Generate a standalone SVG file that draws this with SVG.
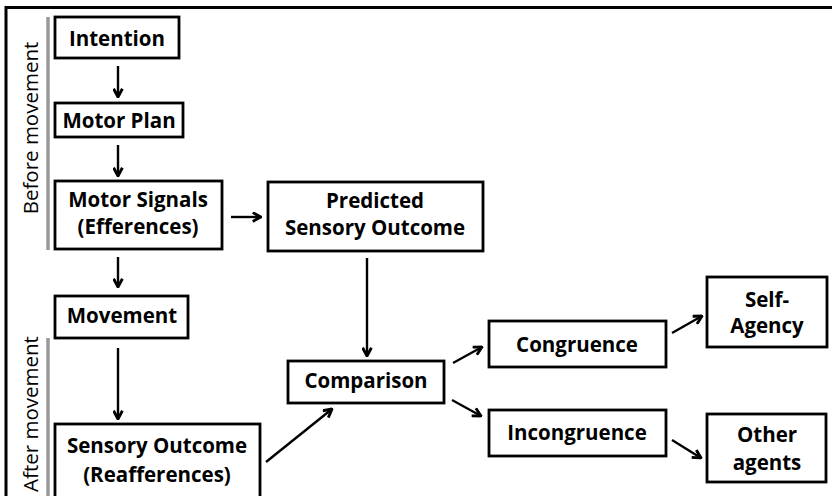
<svg xmlns="http://www.w3.org/2000/svg" width="832" height="496" viewBox="0 0 832 496">
<defs>
<marker id="ah" viewBox="0 0 10 10" refX="9" refY="5" markerWidth="11" markerHeight="11" markerUnits="userSpaceOnUse" orient="auto">
<path d="M1.5,1 L9,5 L1.5,9" fill="none" stroke="#000" stroke-width="2.6" stroke-linejoin="miter"/>
</marker>
<style>
.box{fill:#fff;stroke:#000;stroke-width:2.8}
.t{font-family:"Open Sans","Liberation Sans",sans-serif;font-weight:bold;font-size:20.5px;fill:#000;text-anchor:middle}
.s{font-family:"Open Sans","Liberation Sans",sans-serif;font-size:20.5px;fill:#000;text-anchor:middle}
.c{fill:none;stroke:#000;stroke-width:2.4;marker-end:url(#ah)}
.bar{stroke:#999;stroke-width:3.5}
</style>
</defs>
<rect width="832" height="496" fill="#fff"/>
<path d="M6,496 V7.5 H832" fill="none" stroke="#000" stroke-width="3"/>
<g id="phase-labels">
<line class="bar" x1="48" y1="17" x2="48" y2="250"/>
<line class="bar" x1="48" y1="338" x2="48" y2="496"/>
<text class="s" transform="translate(38,128) rotate(-90)">Before movement</text>
<text class="s" transform="translate(38,414) rotate(-90)">After movement</text>
</g>
<g id="connectors">
<line class="c" x1="118" y1="66" x2="118" y2="97"/>
<line class="c" x1="118" y1="145" x2="118" y2="176"/>
<line class="c" x1="231" y1="217" x2="261" y2="217"/>
<line class="c" x1="118" y1="257" x2="118" y2="287"/>
<line class="c" x1="118" y1="348" x2="118" y2="419"/>
<line class="c" x1="367" y1="258" x2="367" y2="356"/>
<line class="c" x1="266" y1="462" x2="332" y2="409"/>
<line class="c" x1="453" y1="363" x2="482" y2="347"/>
<line class="c" x1="452" y1="400" x2="481" y2="416"/>
<line class="c" x1="672" y1="333" x2="702" y2="316"/>
<line class="c" x1="672" y1="440" x2="701" y2="458"/>
</g>
<g id="intention"><rect class="box" x="55" y="17" width="124" height="41"/><text class="t" x="117" y="46">Intention</text></g>
<g id="motor-plan"><rect class="box" x="55" y="103" width="128" height="34"/><text class="t" x="119" y="128">Motor Plan</text></g>
<g id="motor-signals"><rect class="box" x="55" y="181" width="167" height="68"/><text class="t" x="138" y="207">Motor Signals</text><text class="t" x="138" y="234">(Efferences)</text></g>
<g id="predicted"><rect class="box" x="268" y="182" width="215" height="69"/><text class="t" x="375" y="208">Predicted</text><text class="t" x="375" y="235">Sensory Outcome</text></g>
<g id="movement"><rect class="box" x="55" y="296" width="133" height="42"/><text class="t" x="122" y="323">Movement</text></g>
<g id="sensory-outcome"><rect class="box" x="55" y="424" width="205" height="74"/><text class="t" x="157" y="453">Sensory Outcome</text><text class="t" x="157" y="482">(Reafferences)</text></g>
<g id="comparison"><rect class="box" x="288" y="361" width="156" height="42"/><text class="t" x="366" y="388">Comparison</text></g>
<g id="congruence"><rect class="box" x="489" y="321" width="177" height="46"/><text class="t" x="577" y="352">Congruence</text></g>
<g id="incongruence"><rect class="box" x="489" y="410" width="177" height="46"/><text class="t" x="577" y="440">Incongruence</text></g>
<g id="self-agency"><rect class="box" x="707" y="277" width="120" height="70"/><text class="t" x="767" y="307">Self-</text><text class="t" x="767" y="333">Agency</text></g>
<g id="other-agents"><rect class="box" x="707" y="414" width="119" height="68"/><text class="t" x="767" y="442">Other</text><text class="t" x="767" y="470">agents</text></g>
</svg>
